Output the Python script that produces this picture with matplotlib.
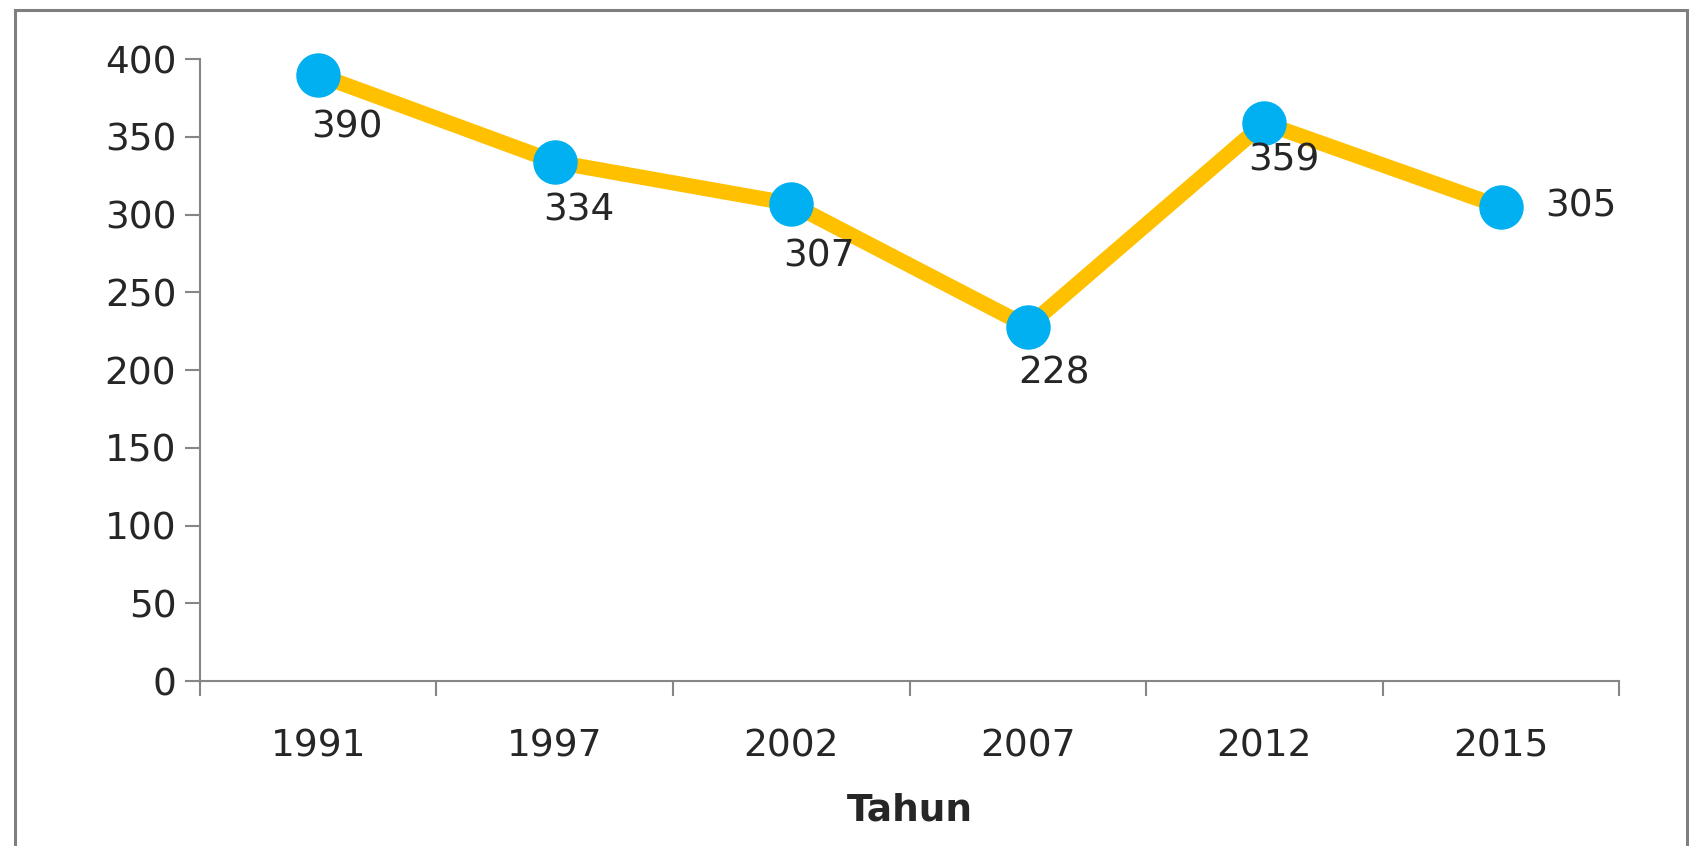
import numpy as np
import matplotlib
matplotlib.use("Agg")
import matplotlib.pyplot as plt
from matplotlib.patches import Rectangle

# data
tahun = ["1991", "1997", "2002", "2007", "2012", "2015"]
nilai = [390, 334, 307, 228, 359, 305]
y_ticks = [0, 50, 100, 150, 200, 250, 300, 350, 400]

# label offsets (points)
label_offsets = [(21, -38), (17, -35), (20, -38), (19, -34), (14, -27), (58, 0)]

plt.rcParams['font.family'] = ['DejaVu Sans']

fig = plt.figure(figsize=(16.89, 8.46), dpi=100)
ax = fig.add_axes([0.1184, 0.195, 0.8402, 0.735])

x = np.arange(len(tahun))
ax.plot(x, nilai, color="#FFC000", lw=11, solid_capstyle="butt", zorder=2, clip_on=False)
ax.plot(x, nilai, ls="none", marker="o", ms=31, color="#00B0F0", zorder=3, clip_on=False)

for xi, v, off in zip(x, nilai, label_offsets):
    ax.annotate(str(v), (xi, v), xytext=off, textcoords="offset points",
                ha="center", va="center", fontsize=27, color="#262626")

ax.set_xlim(-0.5, len(tahun) - 0.5)
ax.set_ylim(0, 400)
ax.set_yticks(y_ticks)
ax.set_xticks(x)
ax.set_xticklabels(tahun)
ax.set_xticks(np.arange(len(tahun) + 1) - 0.5, minor=True)

ax.tick_params(axis="y", which="major", direction="out", length=11, width=1.5,
               color="#868686", labelsize=27, labelcolor="#262626", pad=6)
ax.tick_params(axis="x", which="major", length=0, labelsize=27,
               labelcolor="#262626", pad=34)
ax.tick_params(axis="x", which="minor", direction="out", length=11, width=1.5,
               color="#868686")

for s in ["top", "right"]:
    ax.spines[s].set_visible(False)
for s in ["left", "bottom"]:
    ax.spines[s].set_color("#868686")
    ax.spines[s].set_linewidth(1.5)

ax.set_xlabel("Tahun", fontsize=27, fontweight="bold", color="#262626", labelpad=20)

# border round the chart area
fig.patches.append(Rectangle((0.0089, -0.02), 0.9897, 1.008, transform=fig.transFigure,
                             fill=False, edgecolor="#7F7F7F", lw=2.2))

fig.savefig("out.png", dpi=100)
